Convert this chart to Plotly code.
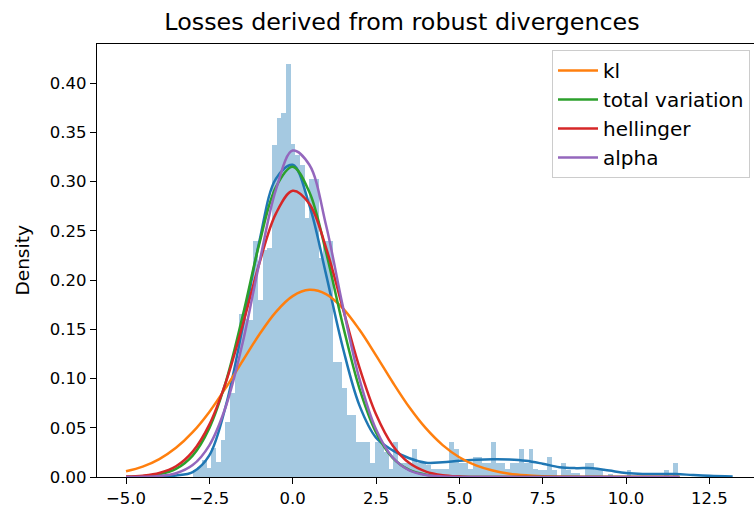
import plotly.graph_objects as go
import numpy as np

# ---------------- data ----------------
bin_start = -3.14
bin_width = 0.14
hist_density = [
    0.000, 0.007, 0.010, 0.017, 0.009, 0.029, 0.015, 0.038, 0.056, 0.085,
    0.117, 0.165, 0.160, 0.159, 0.240, 0.180, 0.230, 0.232, 0.337, 0.364,
    0.370, 0.419, 0.338, 0.327, 0.317, 0.263, 0.303, 0.303, 0.222, 0.240,
    0.240, 0.117, 0.117, 0.090, 0.063, 0.063, 0.036, 0.036, 0.036, 0.014,
    0.036, 0.036, 0.025, 0.008, 0.036, 0.014, 0.014, 0.014, 0.028, 0.014,
    0.014, 0.012, 0.008, 0.008, 0.008, 0.008, 0.036, 0.028, 0.014, 0.014,
    0.008, 0.020, 0.020, 0.014, 0.014, 0.036, 0.014, 0.014, 0.008, 0.014,
    0.014, 0.028, 0.014, 0.028, 0.008, 0.007, 0.007, 0.020, 0.007, 0.000,
    0.014, 0.007, 0.004, 0.004, 0.000, 0.014, 0.014, 0.007, 0.007, 0.000,
    0.003, 0.000, 0.000, 0.000, 0.007, 0.000, 0.000, 0.000, 0.000, 0.000,
    0.000, 0.000, 0.007, 0.000, 0.014,
]

kde_x = [-4.6, -4, -3.5, -3, -2.5, -2, -1.5, -1, -0.5, 0, 0.5, 1, 1.5, 2, 2.5,
         3, 3.5, 4, 4.5, 5, 5.5, 6, 6.5, 7, 7.5, 8, 8.5, 9, 9.5, 10, 10.5, 11,
         11.5, 12, 12.5, 13.2]
kde_y = [0.0, 0.0003, 0.0015, 0.005, 0.022, 0.073, 0.152, 0.239, 0.303, 0.317,
         0.276, 0.206, 0.132, 0.073, 0.040, 0.027, 0.019, 0.0145, 0.015, 0.0165,
         0.0175, 0.018, 0.0178, 0.0165, 0.0135, 0.010, 0.009, 0.009, 0.0065,
         0.004, 0.003, 0.003, 0.003, 0.002, 0.0012, 0.0005]

curve_x = [-5, -4.5, -4, -3.5, -3, -2.5, -2, -1.5, -1, -0.5, 0, 0.5, 1, 1.5, 2,
           2.5, 3, 3.5, 4, 4.5, 5, 5.5, 6, 6.5, 7, 7.5, 8, 9, 10, 11.6]
kl_y = [0.0058, 0.0105, 0.0182, 0.0296, 0.0455, 0.0661, 0.0909, 0.118, 0.1447,
        0.1677, 0.1836, 0.19, 0.1857, 0.1715, 0.1497, 0.1235, 0.0962, 0.0708,
        0.0493, 0.0324, 0.0201, 0.0118, 0.0066, 0.0034, 0.0017, 0.0008, 0.0003,
        0.0, 0.0, 0.0]
tv_y = [0.0002, 0.0007, 0.0027, 0.0082, 0.0217, 0.0496, 0.0972, 0.1636, 0.2369,
        0.2946, 0.315, 0.2893, 0.2284, 0.155, 0.0903, 0.0453, 0.0195, 0.0072,
        0.0023, 0.0006, 0.0002, 0, 0, 0, 0, 0, 0, 0, 0, 0]
hell_y = [0.0004, 0.0014, 0.0041, 0.0109, 0.0258, 0.0532, 0.0966, 0.1543, 0.2168,
          0.2677, 0.2906, 0.2775, 0.2329, 0.1719, 0.1116, 0.0637, 0.032, 0.0141,
          0.0055, 0.0019, 0.0006, 0.0001, 0, 0, 0, 0, 0, 0, 0, 0]
alpha_y = [0.0, 0.0002, 0.001, 0.0038, 0.0121, 0.0322, 0.0721, 0.1363, 0.2173,
           0.2921, 0.3314, 0.317, 0.2558, 0.1741, 0.0999, 0.0484, 0.0198, 0.0068,
           0.002, 0.0005, 0.0001, 0, 0, 0, 0, 0, 0, 0, 0, 0]

x_ticks = [-5.0, -2.5, 0.0, 2.5, 5.0, 7.5, 10.0, 12.5]
y_ticks = [0.00, 0.05, 0.10, 0.15, 0.20, 0.25, 0.30, 0.35, 0.40]
title_text = "Losses derived from robust divergences"

# ---------------- figure ----------------
centers = bin_start + bin_width * (np.arange(len(hist_density)) + 0.5)

FONT = "DejaVu Sans"
LW = 2.5
fig = go.Figure()
fig.add_trace(go.Bar(x=centers, y=hist_density, width=bin_width,
                     marker=dict(color="rgba(31,119,180,0.4)", line=dict(width=0)),
                     showlegend=False, hoverinfo="skip"))
fig.add_trace(go.Scatter(x=kde_x, y=kde_y, mode="lines", showlegend=False,
                         line=dict(color="#1f77b4", width=LW, shape="spline")))
for name, ys, col in [("kl", kl_y, "#ff7f0e"),
                      ("total variation", tv_y, "#2ca02c"),
                      ("hellinger", hell_y, "#d62728"),
                      ("alpha", alpha_y, "#9467bd")]:
    fig.add_trace(go.Scatter(x=curve_x, y=ys, mode="lines", name=name,
                             line=dict(color=col, width=LW, shape="spline")))

fig.update_layout(
    width=754, height=510,
    margin=dict(l=97, r=0, t=44, b=33),
    paper_bgcolor="white", plot_bgcolor="white",
    bargap=0,
    font=dict(family=FONT, size=16.5, color="black"),
    title=dict(text=title_text, x=(402 - 97) / 657, xref="paper", xanchor="center",
               y=1 - 22 / 510, yref="container", yanchor="middle",
               font=dict(family=FONT, size=23.8, color="black")),
    xaxis=dict(range=[-5.87, 13.84], tickvals=x_ticks,
               ticktext=[f"{v:.1f}".replace("-", "\u2212") for v in x_ticks],
               showgrid=False, zeroline=False, showline=True, linecolor="black",
               linewidth=1.3, mirror=True, ticks="outside", ticklen=6,
               tickwidth=1.3, tickcolor="black"),
    yaxis=dict(range=[0, 0.4396], tickvals=y_ticks,
               ticktext=[f"{v:.2f}" for v in y_ticks],
               showgrid=False, zeroline=False, showline=True, linecolor="black",
               linewidth=1.3, ticks="outside", ticklen=6, tickwidth=1.3,
               tickcolor="black"),
    legend=dict(x=(750 - 97) / 657, xanchor="right", y=(477 - 50) / 433,
                yanchor="top", bgcolor="rgba(255,255,255,0.8)",
                bordercolor="#cccccc", borderwidth=1, itemwidth=40,
                font=dict(family=FONT, size=20, color="black"),
                tracegroupgap=0),
    annotations=[dict(text="Density", x=(22 - 97) / 657, xref="paper", y=0.5,
                      yref="paper", textangle=-90, showarrow=False,
                      xanchor="center", yanchor="middle",
                      font=dict(family=FONT, size=18.5, color="black"))],
)

fig.write_html("out.html")
